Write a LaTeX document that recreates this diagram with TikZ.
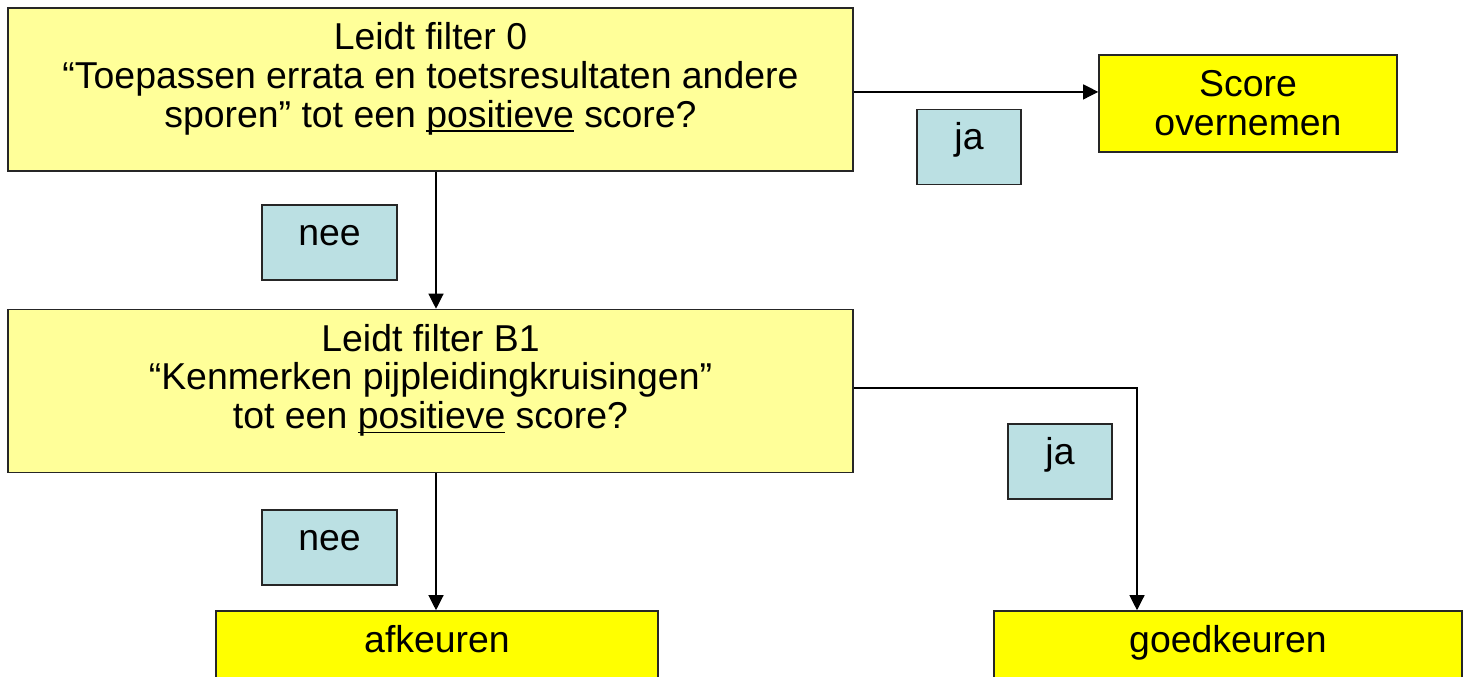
\documentclass[tikz,border=0pt]{standalone}
\usepackage{fontspec}
\setmainfont{Liberation Sans}
\usetikzlibrary{arrows.meta}

\definecolor{lichtgeel}{HTML}{FFFF99}
\definecolor{geel}{HTML}{FFFF00}
\definecolor{lichtblauw}{HTML}{BBE0E3}

\newcommand{\onderstreep}[1]{\setbox0\hbox{#1}\rlap{\rule[-2.4pt]{\wd0}{0.9pt}}#1}

\begin{document}
\begin{tikzpicture}[x=0.5pt, y=-0.5pt,
        letter/.style={font=\fontsize{18.7}{19.4}\selectfont},
        vraag/.style={draw=black!85, line width=0.8pt, fill=lichtgeel,
            minimum width=422.5pt, minimum height=81.5pt, inner sep=0pt},
        vraagtekst/.style={letter, anchor=north, align=center, inner sep=0pt},
        keuze/.style={letter, draw=black!85, line width=0.8pt, fill=lichtblauw,
            inner sep=0pt, text height=20pt, text depth=17.5pt},
        uitkomst/.style={letter, draw=black!85, line width=0.8pt, fill=geel,
            inner sep=0pt, align=center},
        pijl/.style={-{Triangle[length=7.5pt,width=7.5pt]}, line width=0.6pt}]
        \useasboundingbox (0,0) rectangle (1472,676);

        % Questions
        \node[vraag] (qa) at (430.5,89.5) {};
        \node[vraagtekst] (qatekst) at ([yshift=-7.4pt]qa.north)
            {Leidt filter 0\\“Toepassen errata en toetsresultaten andere\\sporen” tot een \onderstreep{positieve} score?};
        \node[vraag] (qb) at (430.5,391) {};
        \node[vraagtekst] (qbtekst) at ([yshift=-7.4pt]qb.north)
            {Leidt filter B1\\“Kenmerken pijpleidingkruisingen”\\tot een \onderstreep{positieve} score?};

        % Outcomes
        \node[uitkomst, minimum width=149pt, minimum height=48.5pt] (score) at (1248,103.5) {Score\\overnemen};
        \node[uitkomst, minimum width=221pt, text height=20.5pt, text depth=24.5pt] (afk) at (437,656) {afkeuren};
        \node[uitkomst, minimum width=234pt, text height=20.5pt, text depth=24.5pt] (goed) at (1228,656) {goedkeuren};

        % Answers
        \node[keuze, minimum width=52pt] (ja1) at (969,147) {ja};
        \node[keuze, minimum width=67.5pt] (nee1) at (329.5,242.5) {nee};
        \node[keuze, minimum width=52pt] (ja2) at (1060,461.5) {ja};
        \node[keuze, minimum width=67.5pt] (nee2) at (329.5,547.5) {nee};

        % Arrows
        \coordinate (knik) at (1137,388);
        \draw[pijl] ([yshift=-1.2pt]qa.east) -- ([yshift=-1.2pt]qa.east -| score.west);
        \draw[pijl] ([xshift=2.75pt]qa.south) -- ([xshift=2.75pt]qb.north);
        \draw[pijl] (qb.east |- knik) -- (knik) -- (knik |- goed.north);
        \draw[pijl] ([xshift=2.75pt]qb.south) -- ([xshift=2.75pt]qb.south |- afk.north);

    \end{tikzpicture}
\end{document}
